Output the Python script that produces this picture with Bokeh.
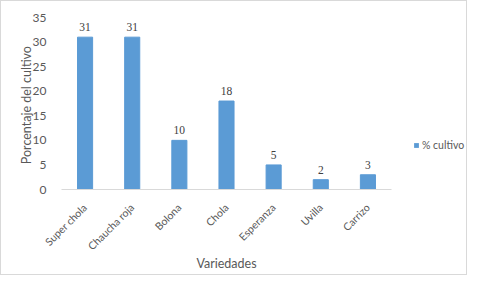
from bokeh.plotting import figure
from bokeh.layouts import row
from bokeh.models import ColumnDataSource, Range1d, FixedTicker, LabelSet, Legend, LegendItem, FactorRange
from bokeh.embed import file_html
from bokeh.resources import INLINE
import math

categories = ["Super chola", "Chaucha roja", "Bolona", "Chola", "Esperanza", "Uvilla", "Carrizo"]
values = [31, 31, 10, 18, 5, 2, 3]
y_ticks = [0, 5, 10, 15, 20, 25, 30, 35]
series_name = "% cultivo"

FONT = "Lato"
GRAY = "#595959"
BAR = "#5B9BD5"

src = ColumnDataSource(dict(cat=categories, val=values, lab=[str(v) for v in values]))

p = figure(x_range=categories, y_range=Range1d(0, 35), width=400, height=273,
           output_backend="svg", toolbar_location=None,
           min_border_left=60, min_border_right=10, min_border_top=16, min_border_bottom=85)
p.outline_line_color = None
p.background_fill_color = "white"
p.border_fill_color = "white"
p.xgrid.visible = False
p.ygrid.visible = False

r = p.vbar(x="cat", top="val", width=0.32, source=src, fill_color=BAR, line_color=BAR)

labels = LabelSet(x="cat", y="val", text="lab", source=src, text_align="center",
                  text_baseline="bottom", y_offset=6, text_font=FONT,
                  text_font_size="11.5px", text_color="#404040")
p.add_layout(labels)

ya = p.yaxis[0]
ya.ticker = FixedTicker(ticks=y_ticks)
ya.axis_line_color = None
ya.major_tick_line_color = None
ya.minor_tick_line_color = None
ya.major_label_text_font = FONT
ya.major_label_text_font_size = "12px"
ya.major_label_text_color = GRAY
ya.major_label_standoff = 9
ya.axis_label = "Porcentaje  del cultivo"
ya.axis_label_text_font = FONT
ya.axis_label_text_font_size = "12.5px"
ya.axis_label_text_font_style = "normal"
ya.axis_label_text_color = GRAY
ya.axis_label_standoff = -4

xa = p.xaxis[0]
xa.axis_line_color = "#D9D9D9"
xa.major_tick_line_color = None
xa.minor_tick_line_color = None
xa.major_label_orientation = math.pi / 4
xa.major_label_text_font = FONT
xa.major_label_text_font_size = "10.5px"
xa.major_label_text_color = GRAY
xa.major_label_standoff = 10
xa.axis_label = "Variedades"
xa.axis_label_text_font = FONT
xa.axis_label_text_font_size = "12.5px"
xa.axis_label_text_font_style = "normal"
xa.axis_label_text_color = GRAY
xa.axis_label_standoff = -3

# legend panel (Excel places the legend at the right, vertically centred)
p2 = figure(width=65, height=273, output_backend="svg", toolbar_location=None,
            x_range=FactorRange(factors=categories), y_range=Range1d(0, 35),
            min_border_left=0, min_border_right=0, min_border_top=16, min_border_bottom=85)
p2.axis.visible = False
p2.grid.visible = False
p2.outline_line_color = None
p2.border_fill_color = "white"
p2.background_fill_color = "white"
proxy = p2.vbar(x="cat", top=0, width=0.3, source=src, fill_color=BAR, line_color=None)
legend = Legend(items=[LegendItem(label=series_name, renderers=[proxy])],
                location=(12, 38), padding=0, margin=0, spacing=0,
                glyph_width=6, glyph_height=6, label_height=12,
                label_standoff=3, label_text_font=FONT, label_text_font_size="10.5px",
                label_text_color=GRAY, border_line_color=None, background_fill_alpha=0)
p2.add_layout(legend)

layout = row(p, p2, spacing=0)
layout.styles = {"border": "1px solid #D9D9D9", "box-sizing": "border-box"}

open("out.html", "w").write(file_html(layout, INLINE))
